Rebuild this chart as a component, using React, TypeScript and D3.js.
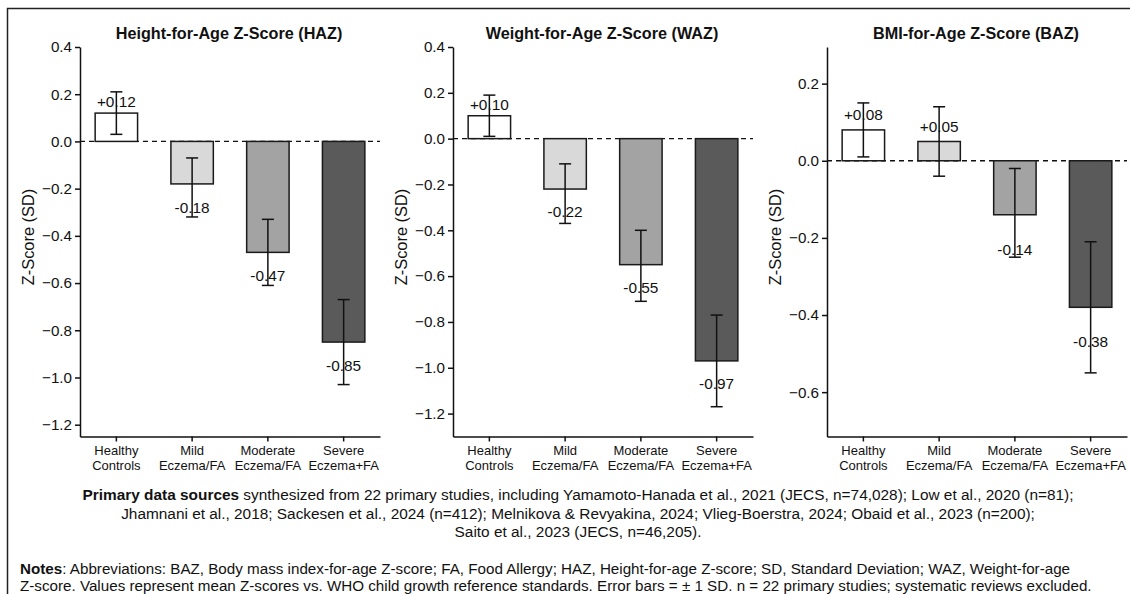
import React, { useEffect, useRef } from "react";
import * as d3 from "d3";

// categories (two-line labels)
const categoryKeys = ["healthy", "mild", "moderate", "severe"];
const categoryLines = [
  ["Healthy", "Controls"],
  ["Mild", "Eczema/FA"],
  ["Moderate", "Eczema/FA"],
  ["Severe", "Eczema+FA"],
];
const barColors = ["#ffffff", "#d9d9d9", "#a3a3a3", "#5a5a5a"];

// HAZ
const hazValues = [0.12, -0.18, -0.47, -0.85];
const hazErrLow = [0.03, -0.32, -0.61, -1.03];
const hazErrHigh = [0.21, -0.07, -0.33, -0.67];
const hazTicks = [0.4, 0.2, 0, -0.2, -0.4, -0.6, -0.8, -1.0, -1.2];

// WAZ
const wazValues = [0.1, -0.22, -0.55, -0.97];
const wazErrLow = [0.01, -0.37, -0.71, -1.17];
const wazErrHigh = [0.19, -0.11, -0.4, -0.77];
const wazTicks = [0.4, 0.2, 0, -0.2, -0.4, -0.6, -0.8, -1.0, -1.2];

// BAZ
const bazValues = [0.08, 0.05, -0.14, -0.38];
const bazErrLow = [0.01, -0.04, -0.25, -0.55];
const bazErrHigh = [0.15, 0.14, -0.02, -0.21];
const bazTicks = [0.2, 0, -0.2, -0.4, -0.6];

const sourceLines = [
  [
    "Primary data sources",
    " synthesized from 22 primary studies, including Yamamoto-Hanada et al., 2021 (JECS, n=74,028); Low et al., 2020 (n=81);",
  ],
  ["", "Jhamnani et al., 2018; Sackesen et al., 2024 (n=412); Melnikova & Revyakina, 2024; Vlieg-Boerstra, 2024; Obaid et al., 2023 (n=200);"],
  ["", "Saito et al., 2023 (JECS, n=46,205)."],
];
const noteLines = [
  [
    "Notes",
    ": Abbreviations: BAZ, Body mass index-for-age Z-score; FA, Food Allergy; HAZ, Height-for-age Z-score; SD, Standard Deviation; WAZ, Weight-for-age",
  ],
  ["", "Z-score. Values represent mean Z-scores vs. WHO child growth reference standards. Error bars = ± 1 SD. n = 22 primary studies; systematic reviews excluded."],
];

const panels = [
  { title: "Height-for-Age Z-Score (HAZ)", values: hazValues, lo: hazErrLow, hi: hazErrHigh, ticks: hazTicks, domain: [-1.25, 0.4], xRange: [80, 380] },
  { title: "Weight-for-Age Z-Score (WAZ)", values: wazValues, lo: wazErrLow, hi: wazErrHigh, ticks: wazTicks, domain: [-1.3, 0.4], xRange: [453, 753] },
  { title: "BMI-for-Age Z-Score (BAZ)", values: bazValues, lo: bazErrLow, hi: bazErrHigh, ticks: bazTicks, domain: [-0.715, 0.295], xRange: [827, 1127] },
];

const FONT = "'Liberation Sans', Arial, Helvetica, sans-serif";
const W = 1130;
const H = 594;

export default function App() {
  const ref = useRef<SVGSVGElement>(null);

  useEffect(() => {
    const svg = d3.select(ref.current);
    svg.selectAll("*").remove();

    svg.append("rect").attr("width", W).attr("height", H).attr("fill", "#fff");
    svg
      .append("rect")
      .attr("x", 7.5)
      .attr("y", 8.5)
      .attr("width", 1140)
      .attr("height", 620)
      .attr("fill", "none")
      .attr("stroke", "#222")
      .attr("stroke-width", 1.5);

    const yBottom = 436.5;
    const yTop = 47;

    panels.forEach((p) => {
      const g = svg.append("g").attr("font-family", FONT);
      const x = d3
        .scaleBand()
        .domain(categoryKeys)
        .range(p.xRange as [number, number])
        .paddingInner(0.44)
        .paddingOuter(0.2);
      const y = d3.scaleLinear().domain(p.domain).range([yBottom, yTop]);
      const x0 = p.xRange[0];

      g.append("text")
        .attr("x", (p.xRange[0] + p.xRange[1]) / 2 - 1)
        .attr("y", 39)
        .attr("text-anchor", "middle")
        .attr("font-size", 16.2)
        .attr("font-weight", "bold")
        .attr("fill", "#111")
        .text(p.title);

      // zero line
      g.append("line")
        .attr("x1", x0)
        .attr("x2", p.xRange[1])
        .attr("y1", y(0))
        .attr("y2", y(0))
        .attr("stroke", "#111")
        .attr("stroke-width", 1.3)
        .attr("stroke-dasharray", "5,4");

      // bars
      g.selectAll("rect.bar")
        .data(p.values)
        .enter()
        .append("rect")
        .attr("class", "bar")
        .attr("x", (_, i) => x(categoryKeys[i])!)
        .attr("width", x.bandwidth())
        .attr("y", (d) => Math.min(y(d), y(0)))
        .attr("height", (d) => Math.abs(y(d) - y(0)))
        .attr("fill", (_, i) => barColors[i])
        .attr("stroke", "#1a1a1a")
        .attr("stroke-width", 1.5);

      // error bars
      const cap = 6;
      p.values.forEach((v, i) => {
        const cx = x(categoryKeys[i])! + x.bandwidth() / 2;
        const eb = g.append("g").attr("stroke", "#111").attr("stroke-width", 1.5);
        eb.append("line").attr("x1", cx).attr("x2", cx).attr("y1", y(p.lo[i])).attr("y2", y(p.hi[i]));
        eb.append("line").attr("x1", cx - cap).attr("x2", cx + cap).attr("y1", y(p.lo[i])).attr("y2", y(p.lo[i]));
        eb.append("line").attr("x1", cx - cap).attr("x2", cx + cap).attr("y1", y(p.hi[i])).attr("y2", y(p.hi[i]));

        g.append("text")
          .attr("x", cx)
          .attr("y", v >= 0 ? y(v + 0.025) : y(v - 0.075))
          .attr("dy", v >= 0 ? 0 : "0.72em")
          .attr("text-anchor", "middle")
          .attr("font-size", 15.4)
          .attr("fill", "#111")
          .text(v > 0 ? "+" + v.toFixed(2) : v.toFixed(2));
      });

      // y axis
      const yAxis = g
        .append("g")
        .attr("transform", `translate(${x0},0)`)
        .call(
          d3
            .axisLeft(y)
            .tickValues(p.ticks)
            .tickFormat(d3.format(".1f") as any)
            .tickSize(5)
            .tickSizeOuter(0)
            .tickPadding(3)
        );
      yAxis.selectAll("text").attr("font-size", 15.2).attr("font-family", FONT).attr("fill", "#111");
      yAxis.selectAll("path,line").attr("stroke", "#111").attr("stroke-width", 1.5);

      // x axis
      const xAxis = g
        .append("g")
        .attr("transform", `translate(0,${yBottom})`)
        .call(d3.axisBottom(x).tickSize(5).tickSizeOuter(0).tickPadding(4));
      xAxis.selectAll("path,line").attr("stroke", "#111").attr("stroke-width", 1.5);
      xAxis
        .selectAll<SVGTextElement, string>(".tick text")
        .text(null)
        .attr("font-size", 13)
        .attr("font-family", FONT)
        .attr("fill", "#111")
        .each(function (d) {
          const lines = categoryLines[categoryKeys.indexOf(d)];
          const t = d3.select(this);
          lines.forEach((ln, k) => {
            t.append("tspan").attr("x", 0).attr("dy", k === 0 ? "0.71em" : "1.2em").text(ln);
          });
        });

      // y label
      g.append("text")
        .attr("transform", `translate(${x0 - 52},237) rotate(-90)`)
        .attr("text-anchor", "middle")
        .attr("dominant-baseline", "central")
        .attr("font-size", 16.4)
        .attr("fill", "#111")
        .text("Z-Score (SD)");
    });

    // sources
    const src = svg.append("g").attr("font-family", FONT).attr("font-size", 15.4).attr("fill", "#111");
    sourceLines.forEach((ln, i) => {
      const t = src
        .append("text")
        .attr("x", 578)
        .attr("y", 500 + i * 18.5)
        .attr("text-anchor", "middle");
      if (ln[0]) t.append("tspan").attr("font-weight", "bold").text(ln[0]);
      t.append("tspan").text(ln[1]);
    });

    const notes = svg.append("g").attr("font-family", FONT).attr("font-size", 15.2).attr("fill", "#111");
    noteLines.forEach((ln, i) => {
      const t = notes.append("text").attr("x", 20).attr("y", 573.5 + i * 17.5);
      if (ln[0]) t.append("tspan").attr("font-weight", "bold").text(ln[0]);
      t.append("tspan").text(ln[1]);
    });
  }, []);

  return (
    <svg
      ref={ref}
      width={W}
      height={H}
      style={{ position: "absolute", left: 0, top: 0, display: "block" }}
    />
  );
}
